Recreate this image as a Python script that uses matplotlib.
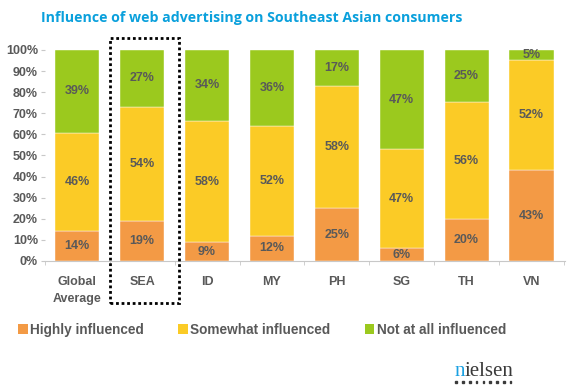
import matplotlib.pyplot as plt
import numpy as np
from matplotlib.patches import Rectangle, Patch

# data (percent)
categories = ["Global\nAverage", "SEA", "ID", "MY", "PH", "SG", "TH", "VN"]
highly = [14, 19, 9, 12, 25, 6, 20, 43]
somewhat = [46, 54, 58, 52, 58, 47, 56, 52]
not_at_all = [39, 27, 34, 36, 17, 47, 25, 5]
series_names = ["Highly influenced", "Somewhat influenced", "Not at all influenced"]

colors = ["#F39A45", "#FBCB26", "#9BC91E"]
gray = "#595959"

plt.rcParams['font.family'] = ['Liberation Sans', 'DejaVu Sans']
plt.rcParams['font.weight'] = 'bold'

fig = plt.figure(figsize=(5.75, 3.9), dpi=100)
ax = fig.add_axes([0.078, 0.331, 0.905, 0.541])

vals = np.array([highly, somewhat, not_at_all], dtype=float)
shares = vals / vals.sum(axis=0)  # stacked to 100%
x = np.arange(len(categories))
bottom = np.zeros(len(categories))
for i in range(3):
    ax.bar(x, shares[i], 0.68, bottom=bottom, color=colors[i],
           edgecolor='white', linewidth=0.3)
    for xi, b, h, v in zip(x, bottom, shares[i], vals[i]):
        ax.text(xi, b + h / 2, "%d%%" % v, ha='center', va='center',
                fontsize=9, color=gray, fontweight='bold')
    bottom += shares[i]

ax.set_xlim(-0.48, 7.52)
ax.set_ylim(0, 1)
ax.set_yticks(np.arange(0, 1.01, 0.1))
ax.set_yticklabels(["%d%%" % (t * 100) for t in np.arange(0, 1.01, 0.1)],
                   fontsize=9, color=gray)
ax.set_xticks(x)
ax.set_xticklabels(categories, fontsize=9, color=gray, linespacing=1.55)
ax.set_xticks(np.arange(-0.5, 7.6, 1), minor=True)
ax.tick_params(axis='x', which='major', length=0, pad=11)
ax.tick_params(axis='x', which='minor', length=3, color='#c8c8c8')
ax.tick_params(axis='y', length=3, color='#c8c8c8', pad=2)
for s in ['top', 'right', 'left']:
    ax.spines[s].set_visible(False)
ax.spines['bottom'].set_color('#c8c8c8')

# title
fig.text(0.071, 0.955, "Influence of web advertising on Southeast Asian consumers",
         fontsize=10.2, color="#0AA0DC", fontweight='bold', va='center',
         family=['Open Sans', 'DejaVu Sans'])

# dotted highlight around SEA
fig.patches.append(Rectangle((0.192, 0.223), 0.12, 0.68, transform=fig.transFigure,
                             fill=False, edgecolor='black', linewidth=2,
                             linestyle=(0, (1, 1))))

# legend
handles = [Patch(facecolor=c, edgecolor='none') for c in colors]
leg = fig.legend(handles, series_names, loc='center left', bbox_to_anchor=(0.022, 0.155),
                 ncol=3, frameon=False, handlelength=0.7, handleheight=0.8,
                 handletextpad=0.2, columnspacing=2.5, borderaxespad=0,
                 prop={'size': 9.8, 'weight': 'bold'})
for t in leg.get_texts():
    t.set_color(gray)

# nielsen mark
fig.text(0.79, 0.036, "n", fontsize=15, color="#1BA1E2", family='Liberation Serif',
         fontweight='normal', va='baseline')
fig.text(0.8075, 0.036, "ielsen", fontsize=15, color="#3a3a3a", family='Liberation Serif',
         fontweight='normal', va='baseline')
for k in range(9):
    fig.patches.append(Rectangle((0.792 + k * 0.0118, 0.018), 0.003, 0.004,
                                 transform=fig.transFigure, color="#3a3a3a"))

fig.savefig("out.png", dpi=100)
